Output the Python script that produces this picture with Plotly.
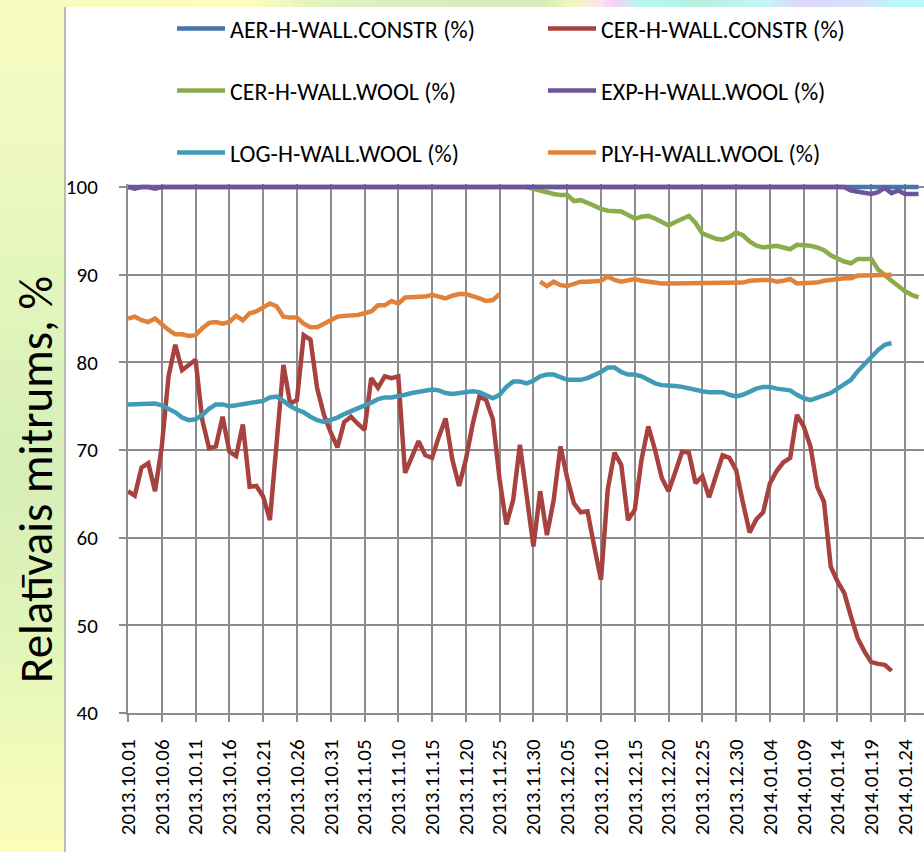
import plotly.graph_objects as go
import pandas as pd

# ---------------- data ----------------
start_date = "2013-10-01"
n_days = 118
dates = pd.date_range(start_date, periods=n_days, freq="D")

series_names = [
    "AER-H-WALL.CONSTR (%)",
    "CER-H-WALL.CONSTR (%)",
    "CER-H-WALL.WOOL (%)",
    "EXP-H-WALL.WOOL (%)",
    "LOG-H-WALL.WOOL (%)",
    "PLY-H-WALL.WOOL (%)",
]

aer_constr = [
    100, 100, 100, 100, 100, 100, 100, 100, 100, 100,
    100, 100, 100, 100, 100, 100, 100, 100, 100, 100,
    100, 100, 100, 100, 100, 100, 100, 100, 100, 100,
    100, 100, 100, 100, 100, 100, 100, 100, 100, 100,
    100, 100, 100, 100, 100, 100, 100, 100, 100, 100,
    100, 100, 100, 100, 100, 100, 100, 100, 100, 100,
    100, 100, 100, 100, 100, 100, 100, 100, 100, 100,
    100, 100, 100, 100, 100, 100, 100, 100, 100, 100,
    100, 100, 100, 100, 100, 100, 100, 100, 100, 100,
    100, 100, 100, 100, 100, 100, 100, 100, 100, 100,
    100, 100, 100, 100, 100, 100, 100, 100, 100, 100,
    100, 100, 100, 100, 100, 100, 100, 100,
]

cer_constr = [
    65.3, 64.8, 68.0, 68.5, 65.3, 70.4, 78.4, 82.0, 79.1, 79.7,
    80.3, 73.4, 70.2, 70.4, 73.8, 69.8, 69.3, 72.9, 65.8, 65.9,
    64.7, 62.0, 71.0, 79.7, 75.3, 75.7, 83.1, 82.6, 77.0, 74.0,
    72.0, 70.3, 73.2, 73.8, 73.0, 72.3, 78.2, 77.1, 78.4, 78.2,
    78.4, 67.4, 69.2, 71.0, 69.4, 69.1, 71.5, 73.6, 68.9, 65.9,
    68.9, 72.9, 76.1, 75.7, 73.5, 66.6, 61.5, 64.3, 70.6, 64.7,
    59.0, 65.3, 60.3, 64.3, 70.4, 66.8, 63.9, 62.9, 63.0, 59.0,
    55.2, 65.5, 69.7, 68.3, 62.0, 63.2, 68.9, 72.7, 70.0, 66.8,
    65.3, 67.5, 69.8, 69.7, 66.2, 67.0, 64.6, 67.0, 69.4, 69.1,
    67.7, 64.0, 60.6, 62.1, 62.9, 66.2, 67.6, 68.6, 69.1, 74.0,
    72.7, 70.4, 65.8, 64.1, 56.7, 55.0, 53.7, 51.0, 48.5, 47.0,
    45.8, 45.6, 45.5, 44.8, None, None, None, None,
]

cer_wool = [
    None, None, None, None, None, None, None, None, None, None,
    None, None, None, None, None, None, None, None, None, None,
    None, None, None, None, None, None, None, None, None, None,
    None, None, None, None, None, None, None, None, None, None,
    None, None, None, None, None, None, None, None, None, None,
    None, None, None, None, None, None, None, None, None, 100.0,
    99.8, 99.6, 99.3, 99.2, 99.1, 99.1, 98.4, 98.5, 98.2, 97.8,
    97.5, 97.3, 97.3, 97.2, 96.8, 96.4, 96.6, 96.7, 96.4, 96.0,
    95.6, 96.0, 96.3, 96.7, 95.9, 94.7, 94.4, 94.1, 94.0, 94.3,
    94.8, 94.5, 93.8, 93.3, 93.1, 93.2, 93.3, 93.1, 92.9, 93.4,
    93.4, 93.3, 93.1, 92.8, 92.2, 91.8, 91.5, 91.3, 91.8, 91.8,
    91.8, 90.6, 89.9, 89.3, 88.7, 88.1, 87.7, 87.4,
]

exp_wool = [
    100, 99.8, 100, 100, 99.8, 100, 100, 100, 100, 100,
    100, 100, 100, 100, 100, 100, 100, 100, 100, 100,
    100, 100, 100, 100, 100, 100, 100, 100, 100, 100,
    100, 100, 100, 100, 100, 100, 100, 100, 100, 100,
    100, 100, 100, 100, 100, 100, 100, 100, 100, 100,
    100, 100, 100, 100, 100, 100, 100, 100, 100, 100,
    100, 100, 100, 100, 100, 100, 100, 100, 100, 100,
    100, 100, 100, 100, 100, 100, 100, 100, 100, 100,
    100, 100, 100, 100, 100, 100, 100, 100, 100, 100,
    100, 100, 100, 100, 100, 100, 100, 100, 100, 100,
    100, 100, 100, 100, 100, 100, 100, 99.6, 99.5, 99.4,
    99.2, 99.4, 99.9, 99.3, 99.6, 99.2, 99.2, 99.2,
]

log_wool = [
    75.2, 75.2, 75.3, 75.3, 75.3, 75.1, 74.7, 74.3, 73.7, 73.4,
    73.5, 74.0, 74.7, 75.2, 75.2, 75.0, 75.1, 75.2, 75.3, 75.4,
    75.6, 76.0, 76.1, 75.6, 75.0, 74.6, 74.3, 73.8, 73.4, 73.2,
    73.4, 73.7, 74.1, 74.4, 74.8, 75.0, 75.4, 75.8, 76.0, 76.0,
    76.1, 76.3, 76.5, 76.6, 76.8, 76.9, 76.8, 76.5, 76.4, 76.5,
    76.7, 76.7, 76.6, 76.2, 75.9, 76.3, 77.2, 77.8, 77.8, 77.6,
    77.9, 78.4, 78.6, 78.6, 78.3, 78.0, 78.0, 78.0, 78.2, 78.5,
    78.9, 79.4, 79.4, 78.9, 78.6, 78.6, 78.4, 78.0, 77.6, 77.4,
    77.4, 77.3, 77.2, 77.0, 76.8, 76.7, 76.6, 76.6, 76.6, 76.3,
    76.1, 76.3, 76.7, 77.0, 77.2, 77.2, 77.0, 76.9, 76.8, 76.3,
    75.9, 75.7, 76.0, 76.2, 76.5, 77.0, 77.5, 78.0, 79.0, 79.8,
    80.6, 81.4, 82.0, 82.2, None, None, None, None,
]

ply_wool = [
    85.0, 85.2, 84.8, 84.6, 85.0, 84.3, 83.7, 83.2, 83.2, 83.0,
    83.1, 83.9, 84.5, 84.6, 84.4, 84.6, 85.3, 84.8, 85.6, 85.8,
    86.3, 86.7, 86.4, 85.2, 85.1, 85.1, 84.4, 84.0, 84.0, 84.4,
    84.8, 85.2, 85.3, 85.3, 85.4, 85.6, 85.8, 86.5, 86.5, 87.0,
    86.7, 87.4, 87.4, 87.4, 87.5, 87.7, 87.5, 87.3, 87.6, 87.8,
    87.8, 87.6, 87.3, 87.0, 87.1, 87.8, None, None, None, None,
    None, 89.2, 88.7, 89.2, 88.8, 88.7, 88.9, 89.2, 89.2, 89.2,
    89.3, 89.8, 89.4, 89.2, 89.3, 89.5, 89.3, 89.2, 89.0, 89.0,
    89.0, 89.0, 89.0, 89.0, 89.0, 89.0, 89.0, 89.0, 89.0, 89.0,
    89.0, 89.1, 89.3, 89.4, 89.4, 89.4, 89.2, 89.3, 89.5, 89.0,
    89.0, 89.0, 89.1, 89.3, 89.4, 89.6, 89.6, 89.6, 89.9, 89.9,
    89.9, 90.0, 90.0, 90.0, None, None, None, None,
]

y_ticks = [40, 50, 60, 70, 80, 90, 100]
y_title = "Relatīvais mitrums, %"

# ---------------- style ----------------
W, H = 924, 852
L, R, T, B = 128, 0, 184, 139
PW, PH = W - L - R, H - T - B
FONT = "Carlito, Lato, sans-serif"
GRID = "#8c8c8c"
colors = ["#4675ad", "#a8423f", "#8aac4b", "#6f5598", "#3f9bb6", "#e0823a"]
legend_of = ["legend", "legend", "legend2", "legend2", "legend3", "legend3"]
legend_w = [308, 250, 308, 250, 308, 250]

def xp(px):
    return (px - L) / PW

def yp(py):
    return (H - B - py) / PH

x_start = pd.Timestamp(start_date)
x_end = x_start + pd.Timedelta(days=PW / 6.757)
y_top = 100 + (187 - T) / ((713 - 187) / 60)

fig = go.Figure()
all_series = [aer_constr, cer_constr, cer_wool, exp_wool, log_wool, ply_wool]
for name, vals, col, lg, lw in zip(series_names, all_series, colors, legend_of, legend_w):
    fig.add_trace(go.Scatter(
        x=dates, y=vals, name=name, mode="lines",
        line=dict(color=col, width=4.5),
        legend=lg, legendwidth=lw, hoverinfo="skip",
    ))

# background: slide gradient + white chart area
def hex2rgb(h):
    h = h.lstrip("#")
    return tuple(int(h[i:i + 2], 16) for i in (0, 2, 4))

def interp(stops, pos):
    for (p0, c0), (p1, c1) in zip(stops, stops[1:]):
        if p0 <= pos <= p1:
            t = 0 if p1 == p0 else (pos - p0) / (p1 - p0)
            a, b = hex2rgb(c0), hex2rgb(c1)
            return "rgb(%d,%d,%d)" % tuple(round(a[i] + (b[i] - a[i]) * t) for i in range(3))
    return stops[-1][1]

left_stops = [(0, "#f8fcc2"), (150, "#eef9c0"), (320, "#e0f4bb"), (470, "#d6eeb7"),
              (620, "#dff4b9"), (730, "#eefab9"), (852, "#fcfdba")]
top_stops = [(0, "#f6fcc0"), (250, "#fdfdc0"), (320, "#e2f3bf"), (420, "#d8eebc"),
             (540, "#d5ecb8"), (575, "#f2f8c0"), (600, "#fde2ef"), (615, "#f6d0f4"),
             (640, "#b8f8f0"), (700, "#b6f0e0"), (760, "#c0f8f8"), (800, "#dcd8fc"),
             (860, "#d8e0fc"), (900, "#b8f8f8"), (924, "#b8f8f8")]

shapes = []
step = 8
for y0 in range(0, H, step):
    shapes.append(dict(type="rect", xref="paper", yref="paper", layer="below",
                       x0=xp(0), x1=xp(66), y0=yp(y0), y1=yp(min(H, y0 + step + 1)),
                       fillcolor=interp(left_stops, y0 + step / 2), line=dict(width=0)))
for x0 in range(60, W, step):
    shapes.append(dict(type="rect", xref="paper", yref="paper", layer="below",
                       x0=xp(x0), x1=xp(min(W, x0 + step + 1)), y0=yp(0), y1=yp(8),
                       fillcolor=interp(top_stops, x0 + step / 2), line=dict(width=0)))
shapes.append(dict(type="rect", xref="paper", yref="paper", layer="below",
                   x0=xp(65), x1=xp(W + 2), y0=yp(7), y1=yp(H + 2),
                   fillcolor="white", line=dict(width=0)))
shapes.append(dict(type="line", xref="paper", yref="paper", layer="below",
                   x0=xp(65), x1=xp(65), y0=yp(7), y1=yp(H + 2),
                   line=dict(color="#a6a6a6", width=1.5)))

leg_common = dict(orientation="h", xanchor="left", yanchor="middle",
                  bgcolor="rgba(0,0,0,0)", borderwidth=0, itemwidth=48,
                  entrywidthmode="pixels",
                  font=dict(family=FONT, size=24, color="black"),
                  itemclick=False, itemdoubleclick=False)

fig.update_layout(
    width=W, height=H,
    margin=dict(l=L, r=R, t=T, b=B, pad=0, autoexpand=False),
    paper_bgcolor="#eef9c0",
    plot_bgcolor="white",
    font=dict(family=FONT, color="black"),
    shapes=shapes,
    showlegend=True,
    legend=dict(x=xp(172), y=yp(29), **leg_common),
    legend2=dict(x=xp(172), y=yp(91), **leg_common),
    legend3=dict(x=xp(172), y=yp(153), **leg_common),
    annotations=[dict(text=y_title, xref="paper", yref="paper",
                      x=xp(36), y=yp(480), xanchor="center", yanchor="middle",
                      textangle=-90, showarrow=False,
                      font=dict(family=FONT, size=47, color="black"))],
    xaxis=dict(
        type="date", range=[x_start, x_end], automargin=False,
        tick0=start_date, dtick=5 * 86400000, tickformat="%Y.%m.%d",
        tickangle=-90, tickfont=dict(family=FONT, size=21, color="black"),
        showgrid=True, gridcolor=GRID, gridwidth=2,
        ticks="outside", ticklen=7, tickcolor=GRID, tickwidth=2,
        showline=True, linecolor=GRID, linewidth=2,
        zeroline=False, ticklabelstandoff=9,
    ),
    yaxis=dict(
        range=[40, y_top], tickvals=y_ticks, automargin=False,
        tickfont=dict(family=FONT, size=21, color="black"),
        showgrid=True, gridcolor=GRID, gridwidth=2,
        ticks="outside", ticklen=7, tickcolor=GRID, tickwidth=2,
        showline=True, linecolor=GRID, linewidth=2,
        zeroline=False, ticklabelstandoff=17,
    ),
)

fig.write_html("out.html",
               config={"displayModeBar": False, "staticPlot": True},
               post_script="document.body.style.margin='0';document.body.style.overflow='hidden';")
